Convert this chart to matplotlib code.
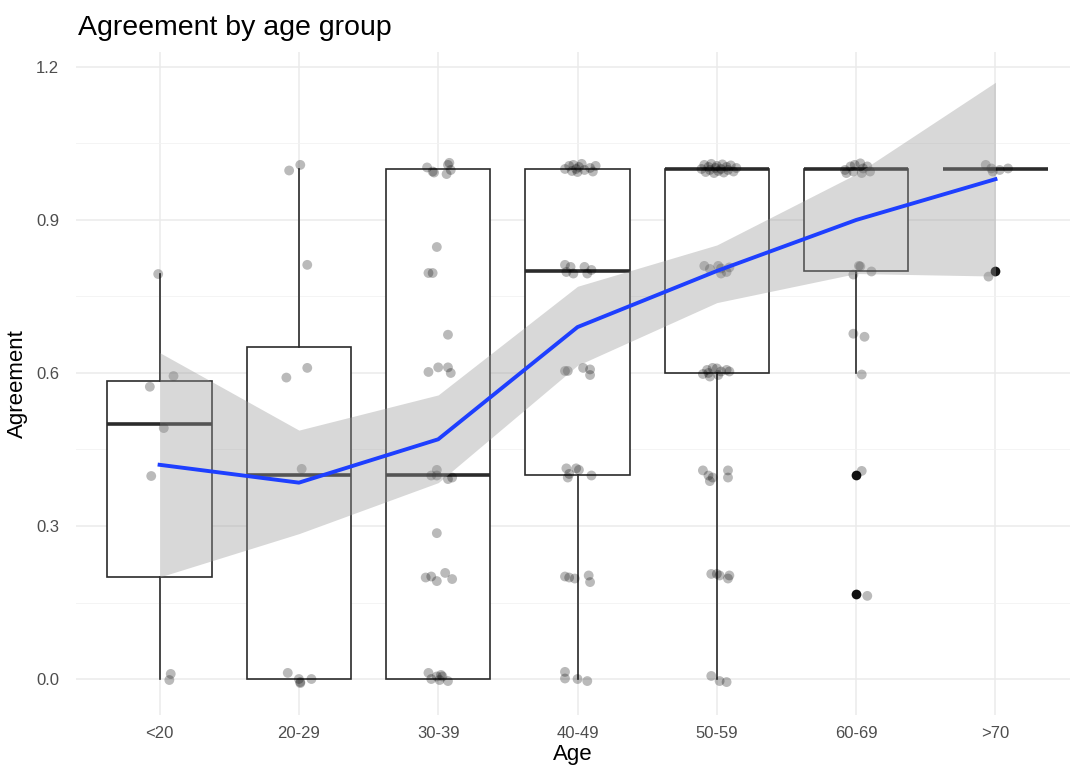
import numpy as np
import matplotlib
matplotlib.use("Agg")
import matplotlib.pyplot as plt

plt.rcParams['font.family'] = ['Liberation Sans', 'DejaVu Sans']

# categories
ages = ["<20", "20-29", "30-39", "40-49", "50-59", "60-69", ">70"]

# box statistics
q1     = [0.20, 0.00, 0.00, 0.40, 0.60, 0.80, 1.00]
med    = [0.50, 0.40, 0.40, 0.80, 1.00, 1.00, 1.00]
q3     = [0.585, 0.65, 1.00, 1.00, 1.00, 1.00, 1.00]
whislo = [0.00, 0.00, 0.00, 0.00, 0.00, 0.60, 1.00]
whishi = [0.795, 1.00, 1.00, 1.00, 1.00, 1.00, 1.00]
fliers = [[], [], [], [], [], [0.40, 0.167], [0.80]]

# smoother (fit and confidence band) at each age group
fit_y = [0.42, 0.385, 0.47, 0.69, 0.80, 0.90, 0.98]
fit_lo = [0.20, 0.285, 0.385, 0.615, 0.738, 0.795, 0.79]
fit_hi = [0.64, 0.488, 0.557, 0.77, 0.851, 0.99, 1.17]

# jittered points: horizontal offset from the group centre, and value
jit_dx_lt20 = [-0.01, 0.10, -0.07, 0.03, -0.06, 0.08, 0.07]
jit_y_lt20 = [0.794, 0.594, 0.573, 0.492, 0.398, 0.010, -0.002]

jit_dx_20s = [0.01, -0.07, 0.06, 0.06, -0.09, 0.02, -0.08, 0.0, 0.01, 0.09, 0.01]
jit_y_20s = [1.008, 0.997, 0.812, 0.61, 0.591, 0.412, 0.012, 0.0, -0.006, 0.0, -0.008]

jit_dx_30s = [-0.08, -0.04, -0.03, 0.08, 0.07, 0.09, 0.06,
              -0.01, -0.07, -0.04, 0.07, -0.07, 0.0, 0.07, 0.09,
              -0.01, -0.01, 0.07, 0.10, -0.05,
              -0.01,
              -0.09, -0.05, -0.01, 0.05, 0.10,
              -0.07, -0.05, -0.01, 0.01, 0.03, 0.07, 0.02]
jit_y_30s = [1.003, 0.995, 0.993, 1.012, 1.008, 0.998, 0.99,
             0.847, 0.796, 0.796, 0.675, 0.602, 0.611, 0.611, 0.60,
             0.41, 0.399, 0.392, 0.395, 0.399,
             0.286,
             0.199, 0.201, 0.192, 0.208, 0.196,
             0.012, 0.0, 0.005, -0.002, 0.005, -0.004, 0.008]

jit_dx_40s = [-0.09, -0.06, -0.04, -0.03, -0.01, 0.0, 0.01, 0.03, 0.05, 0.09, 0.11, 0.13,
              -0.09, -0.05, -0.03, 0.05, 0.07, -0.08, 0.10,
              -0.07, 0.04, 0.09, 0.09, -0.09,
              -0.08, -0.06, -0.01, 0.01, 0.10, -0.07,
              -0.09, -0.06, -0.02, 0.08, 0.09,
              -0.09, -0.09, 0.0, 0.07]
jit_y_40s = [1.0, 1.006, 0.996, 1.008, 1.0, 0.994, 1.004, 1.01, 0.998, 1.002, 0.995, 1.006,
             0.812, 0.808, 0.795, 0.808, 0.795, 0.798, 0.802,
             0.604, 0.61, 0.607, 0.596, 0.604,
             0.413, 0.402, 0.413, 0.41, 0.399, 0.395,
             0.201, 0.199, 0.197, 0.203, 0.19,
             0.014, 0.001, 0.0, -0.004]

jit_dx_50s = [-0.11, -0.09, -0.08, -0.06, -0.05, -0.04, -0.02, -0.01, 0.0,
              0.01, 0.03, 0.04, 0.05, 0.07, 0.08, 0.10, 0.12, 0.14,
              -0.09, -0.05, 0.01, 0.03, 0.07, 0.09, 0.03,
              -0.07, -0.05, 0.0, 0.03, 0.07, 0.09, -0.06, 0.01, -0.10, -0.03,
              -0.10, -0.06, -0.05, 0.08, 0.08, -0.03,
              -0.04, 0.0, 0.02, 0.09, 0.08,
              -0.04, 0.02, 0.07]
jit_y_50s = [1.0, 1.008, 0.994, 1.004, 0.998, 1.01, 0.992, 1.002, 1.006,
             0.996, 1.0, 1.009, 0.993, 1.004, 0.998, 1.007, 0.995, 1.002,
             0.81, 0.804, 0.81, 0.805, 0.798, 0.807, 0.795,
             0.606, 0.593, 0.609, 0.603, 0.606, 0.603, 0.6, 0.596, 0.598, 0.61,
             0.409, 0.399, 0.388, 0.409, 0.395, 0.395,
             0.206, 0.206, 0.203, 0.203, 0.197,
             0.006, -0.004, -0.006]

jit_dx_60s = [-0.08, -0.04, -0.01, 0.03, 0.05, 0.08, 0.10, 0.04, -0.07, -0.02,
              -0.02, 0.03, 0.11, 0.02,
              -0.02, 0.06,
              0.04,
              0.04,
              0.08]
jit_y_60s = [0.998, 1.005, 1.008, 1.011, 1.001, 1.005, 0.995, 0.992, 0.992, 0.995,
             0.793, 0.809, 0.799, 0.81,
             0.677, 0.671,
             0.597,
             0.408,
             0.163]

jit_dx_70p = [-0.07, -0.03, 0.03, 0.09, -0.02, -0.05]
jit_y_70p = [1.008, 1.001, 0.998, 1.001, 0.995, 0.789]

jit_dx = [jit_dx_lt20, jit_dx_20s, jit_dx_30s, jit_dx_40s, jit_dx_50s, jit_dx_60s, jit_dx_70p]
jit_y = [jit_y_lt20, jit_y_20s, jit_y_30s, jit_y_40s, jit_y_50s, jit_y_60s, jit_y_70p]

pos = np.arange(1, len(ages) + 1)

fig = plt.figure(figsize=(10.70, 7.71), dpi=100)
ax = fig.add_axes([76 / 1070, 0.073, 1 - 76 / 1070, 0.86])

# grid like theme_minimal
ax.set_axisbelow(True)
ax.set_yticks([0.15, 0.45, 0.75, 1.05], minor=True)
ax.grid(which='major', color='#EBEBEB', linewidth=1.1)
ax.grid(which='minor', axis='y', color='#F2F2F2', linewidth=0.6)
for s in ax.spines.values():
    s.set_visible(False)
ax.tick_params(which='both', length=0)

stats = []
for i in range(len(ages)):
    stats.append(dict(q1=q1[i], med=med[i], q3=q3[i], whislo=whislo[i],
                      whishi=whishi[i], fliers=fliers[i]))

ax.bxp(stats, positions=pos, widths=0.75, showcaps=False, patch_artist=True,
       boxprops=dict(facecolor='white', edgecolor='#2B2B2B', linewidth=1.2),
       medianprops=dict(color='#2B2B2B', linewidth=2.6, solid_capstyle='butt'),
       whiskerprops=dict(color='#2B2B2B', linewidth=1.2),
       flierprops=dict(marker='o', markerfacecolor='#111111', markeredgecolor='none',
                       markersize=7))

for i in range(len(ages)):
    xs = pos[i] + np.array(jit_dx[i])
    ax.scatter(xs, jit_y[i], s=50, color='black', alpha=0.27, edgecolors='none', zorder=4)

ax.fill_between(pos, fit_lo, fit_hi, color='#999999', alpha=0.38, linewidth=0, zorder=5)
ax.plot(pos, fit_y, color='#1E3FFF', linewidth=2.8, zorder=6)

ax.set_xlim(0.4, 7.535)
ax.set_ylim(-0.07, 1.23)
ax.set_xticks(pos)
ax.set_xticklabels(ages)
ax.set_yticks([0.0, 0.3, 0.6, 0.9, 1.2])
ax.set_yticklabels(["0.0", "0.3", "0.6", "0.9", "1.2"])
ax.tick_params(axis='both', labelsize=12, labelcolor='#4D4D4D')
ax.tick_params(axis='y', pad=12)
ax.tick_params(axis='x', pad=8)

ax.set_xlabel("Age", fontsize=16, color='black', labelpad=2)
ax.set_ylabel("Agreement", fontsize=16, color='black', labelpad=6)
fig.text(78 / 1070, 1 - 28 / 771, "Agreement by age group", fontsize=20.5,
         ha='left', va='center')

fig.savefig("out.png", dpi=100)
